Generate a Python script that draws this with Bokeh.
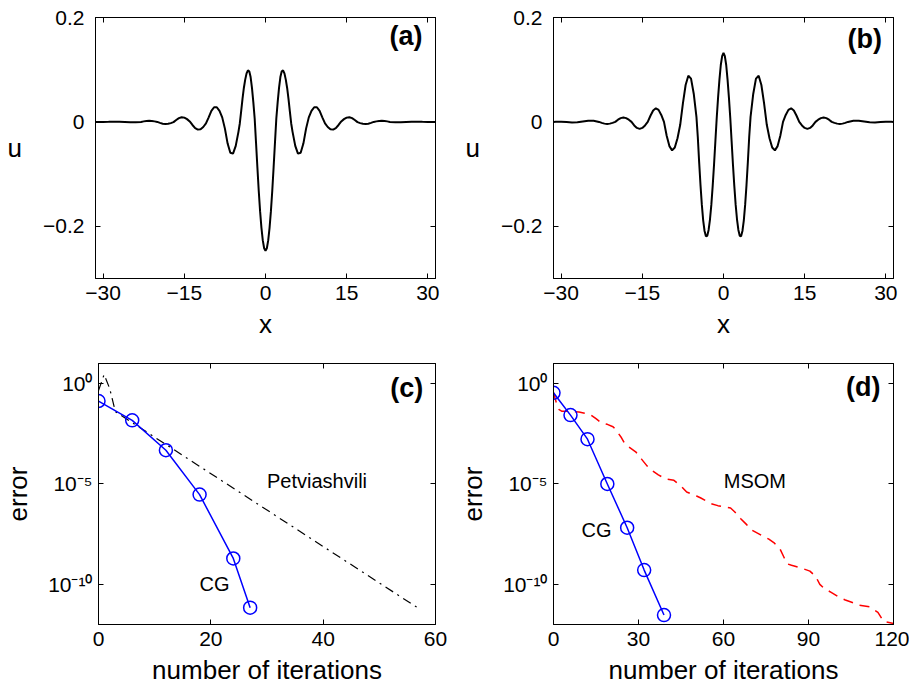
from bokeh.plotting import figure
from bokeh.layouts import column, row
from bokeh.models import Range1d, LinearAxis, LogAxis, FixedTicker, CustomJSTickFormatter
from bokeh.embed import file_html
from bokeh.resources import INLINE
from bokeh.core.properties import value

FONT = "Liberation Sans"

# ---------------- data ----------------
# profiles (symmetric in x): values read for x >= 0
x_half = [0.0, 0.25, 0.5, 0.75, 1.0, 1.25, 1.5, 1.75, 2.0, 2.25, 2.5, 2.75, 3.0, 3.25, 3.5, 3.75,
          4.0, 4.25, 4.5, 4.75,
          5.0, 5.5, 6.0, 6.5, 7.0, 7.5, 8.0, 8.5, 9.0, 9.5, 10.0, 10.5, 11.0, 11.5, 12.0, 12.5,
          13.0, 13.5, 14.0, 14.5, 15.0, 15.5, 16.0, 16.5, 17.0, 17.5, 18.0, 18.5, 19.0, 19.5,
          20.0, 20.5, 21.0, 21.5, 22.0, 22.5,
          23.0, 24.0, 25.0, 26.0, 27.0, 28.0, 29.0, 30.0, 31.0, 31.42]
u_a_half = [-0.247, -0.242, -0.227, -0.203, -0.171, -0.132, -0.087, -0.040, 0.0065, 0.038, 0.065,
            0.086, 0.097, 0.0985, 0.093, 0.081, 0.065, 0.044, 0.020, -0.003,
            -0.019, -0.046, -0.0607, -0.059, -0.0415, -0.0129, 0.0087, 0.021, 0.0281, 0.0281,
            0.021, 0.0087, -0.003, -0.0098, -0.0141, -0.0148, -0.0119, -0.0059, 0.0009, 0.0053,
            0.0082, 0.009, 0.0073, 0.0037, -0.0004, -0.0023, -0.0036, -0.004, -0.0034, -0.0019,
            0.0, 0.001, 0.0017, 0.002, 0.0017, 0.001,
            0.0, -0.0008, -0.0008, -0.0002, 0.0003, 0.0004, 0.0001, -0.0001, -0.0001, 0.0]
u_b_half = [0.132, 0.126, 0.109, 0.081, 0.047, 0.008, -0.037, -0.082, -0.123, -0.159, -0.187,
            -0.207, -0.218, -0.219, -0.209, -0.189, -0.159, -0.121, -0.077, -0.029,
            0.0097, 0.054, 0.083, 0.0885, 0.0707, 0.0354, -0.0055, -0.0312, -0.049, -0.0545,
            -0.0464, -0.0265, 0.0, 0.0134, 0.023, 0.026, 0.0218, 0.0118, 0.0, -0.0067,
            -0.0115, -0.0133, -0.0115, -0.0067, 0.0, 0.0042, 0.0072, 0.0083, 0.0072, 0.0042,
            0.0, -0.0019, -0.0033, -0.0038, -0.0033, -0.0019,
            0.0, 0.0022, 0.0024, 0.0008, -0.0008, -0.001, -0.0002, 0.0003, 0.0002, 0.0]

# (c) convergence: iterations and log10(error)
cg_c_iter = [0, 6, 12, 18, 24, 27]
cg_c_log = [-0.87, -1.83, -3.32, -5.53, -8.71, -11.16]
pet_iter = [0, 1, 2, 3, 57]
pet_log = [-0.35, 0.45, -0.25, -1.4, -11.2]

# (d) convergence
cg_d_iter = [0, 6, 12, 19, 26, 32, 39]
cg_d_log = [-0.46, -1.57, -2.77, -5.0, -7.18, -9.29, -11.53]
msom_iter = [0, 1, 2, 3, 5, 7, 9, 11, 13, 15, 17, 19, 21, 22, 23, 24, 25, 26.5, 29, 31, 33, 35,
             37, 39.5, 42.5, 45, 47, 49, 50.5, 52, 54, 56, 58, 60, 62.5, 64, 66, 68, 70, 73.5,
             76, 78, 80, 81.5, 82.5, 84, 87, 90.5, 92.5, 94, 95.5, 98, 101, 103, 105, 108,
             111.5, 114.5, 116.5, 120]
msom_log = [-0.46, -0.95, -1.3, -1.38, -1.38, -1.39, -1.42, -1.48, -1.55, -1.75, -1.97, -2.03,
            -2.15, -2.3, -2.5, -2.7, -2.95, -3.15, -3.4, -3.75, -4.1, -4.35, -4.55, -4.74, -4.82,
            -5.1, -5.4, -5.52, -5.6, -5.7, -5.85, -6.0, -6.08, -6.14, -6.2, -6.4, -6.72, -7.0,
            -7.3, -7.57, -7.75, -7.95, -8.25, -8.7, -8.98, -9.05, -9.17, -9.34, -9.6, -10.0,
            -10.2, -10.4, -10.66, -10.78, -10.88, -11.04, -11.12, -11.4, -11.85, -11.95]

x_ticks_top = [-30, -15, 0, 15, 30]
u_ticks = [-0.2, 0, 0.2]
x_ticks_c = [0, 20, 40, 60]
x_ticks_d = [0, 30, 60, 90, 120]
err_ticks = [1e-10, 1e-5, 1.0]

# ---------------- build ----------------
x_full = [-v for v in reversed(x_half[1:])] + x_half
u_a = list(reversed(u_a_half[1:])) + u_a_half
u_b = list(reversed(u_b_half[1:])) + u_b_half


def tolin(vals):
    return [10.0 ** v for v in vals]


LIN_FMT = CustomJSTickFormatter(code="return tick < 0 ? '\\u2212' + String(-tick) : String(tick);")
LOG_CODE = r"""
const e = Math.round(Math.log10(tick));
const m = {'0':'\u2070','1':'\u00B9','2':'\u00B2','3':'\u00B3','4':'\u2074','5':'\u2075',
           '6':'\u2076','7':'\u2077','8':'\u2078','9':'\u2079','-':'\u207B'};
let s = '';
for (const c of String(e)) { s += m[c]; }
return '10' + s;
"""


def style_axis(ax, ticks, fmt, show_labels=True, standoff=6):
    ax.ticker = FixedTicker(ticks=ticks)
    ax.formatter = fmt
    ax.major_tick_in = 5
    ax.major_tick_out = 0
    ax.minor_tick_line_color = None
    ax.axis_line_color = "black"
    ax.major_tick_line_color = "black"
    ax.major_label_text_font = FONT
    if show_labels:
        ax.major_label_text_color = "black"
        ax.major_label_text_font_size = "21px"
        ax.major_label_standoff = standoff
    else:
        ax.major_label_text_color = None
        ax.major_label_text_font_size = "1px"
        ax.major_label_standoff = 0
    ax.axis_label_text_font = FONT
    ax.axis_label_text_font_size = "26px"
    ax.axis_label_text_font_style = "normal"
    ax.axis_label_text_color = "black"


def make(width, height, xr, yr, ylog, borders, xticks, yticks, xstand):
    p = figure(width=width, height=height, x_range=xr, y_range=yr,
               y_axis_type="log" if ylog else "linear",
               output_backend="svg", toolbar_location=None,
               min_border_left=borders[0], min_border_right=borders[1],
               min_border_top=borders[2], min_border_bottom=borders[3])
    p.grid.visible = False
    p.outline_line_color = "black"
    p.outline_line_width = 1
    p.background_fill_color = "white"
    p.border_fill_color = "white"
    yfmt = CustomJSTickFormatter(code=LOG_CODE) if ylog else LIN_FMT
    bottom = p.xaxis[0]
    left = p.yaxis[0]
    style_axis(bottom, xticks, LIN_FMT, True, xstand)
    style_axis(left, yticks, yfmt, True, 6 if ylog else 11)
    top = LinearAxis()
    style_axis(top, xticks, LIN_FMT, False)
    p.add_layout(top, "above")
    right = LogAxis() if ylog else LinearAxis()
    style_axis(right, yticks, yfmt, False)
    p.add_layout(right, "right")
    return p, bottom, left


def put_text(p, x, y, txt, align="left", size="20px", bold=False):
    p.text(x=[x], y=[y], text=[txt], text_font=value(FONT), text_font_size=size,
           text_align=align, text_baseline="middle", text_color="black",
           text_font_style="bold" if bold else "normal")


# (a)
pa, pa_x, pa_y = make(454, 346, Range1d(-31.416, 31.416), Range1d(-0.3, 0.2), False,
                      (95, 19, 17, 68), x_ticks_top, u_ticks, 7)
pa.line(x_full, u_a, line_color="black", line_width=2)
pa_x.axis_label = "x"
pa_x.axis_label_standoff = 6
pa_y.axis_label = "u"
pa_y.axis_label_orientation = "horizontal"
pa_y.axis_label_standoff = 18
put_text(pa, 29.0, 0.164, "(a)", "right", "27px", True)

# (b)
pb, pb_x, pb_y = make(455, 346, Range1d(-31.416, 31.416), Range1d(-0.3, 0.2), False,
                      (99, 16, 17, 68), x_ticks_top, u_ticks, 7)
pb.line(x_full, u_b, line_color="black", line_width=2)
pb_x.axis_label = "x"
pb_x.axis_label_standoff = 6
pb_y.axis_label = "u"
pb_y.axis_label_orientation = "horizontal"
pb_y.axis_label_standoff = 18
put_text(pb, 29.3, 0.158, "(b)", "right", "27px", True)

# (c)
pc, pc_x, pc_y = make(454, 342, Range1d(0, 60), Range1d(1e-12, 10.0), True,
                      (95, 19, 17, 64), x_ticks_c, err_ticks, 7)
pc.line(pet_iter, tolin(pet_log), line_color="black", line_width=1.2, line_dash="9 5 2 5")
pc.line(cg_c_iter, tolin(cg_c_log), line_color="#0000ff", line_width=1.5)
pc.scatter(cg_c_iter, tolin(cg_c_log), marker="circle", size=13, fill_color=None,
           line_color="#0000ff", line_width=1.5)
pc_x.axis_label = "number of iterations"
pc_x.axis_label_standoff = 6
pc_y.axis_label = "error"
pc_y.axis_label_standoff = 12
put_text(pc, 57.8, 10 ** -0.2, "(c)", "right", "27px", True)
put_text(pc, 30.0, 10 ** -4.85, "Petviashvili")
put_text(pc, 18.0, 1e-10, "CG")

# (d)
pd_, pd_x, pd_y = make(455, 342, Range1d(0, 120), Range1d(1e-12, 10.0), True,
                       (99, 16, 17, 64), x_ticks_d, err_ticks, 7)
pd_.line(msom_iter, tolin(msom_log), line_color="#ff0000", line_width=1.5, line_dash="10 7")
pd_.line(cg_d_iter, tolin(cg_d_log), line_color="#0000ff", line_width=1.5)
pd_.scatter(cg_d_iter, tolin(cg_d_log), marker="circle", size=13, fill_color=None,
            line_color="#0000ff", line_width=1.5)
pd_x.axis_label = "number of iterations"
pd_x.axis_label_standoff = 6
pd_y.axis_label = "error"
pd_y.axis_label_standoff = 12
put_text(pd_, 115.4, 10 ** -0.15, "(d)", "right", "27px", True)
put_text(pd_, 60.1, 10 ** -4.85, "MSOM")
put_text(pd_, 9.9, 10 ** -7.3, "CG")

layout = column(row(pa, pb), row(pc, pd_))

with open("out.html", "w", encoding="utf-8") as f:
    f.write(file_html(layout, INLINE))
